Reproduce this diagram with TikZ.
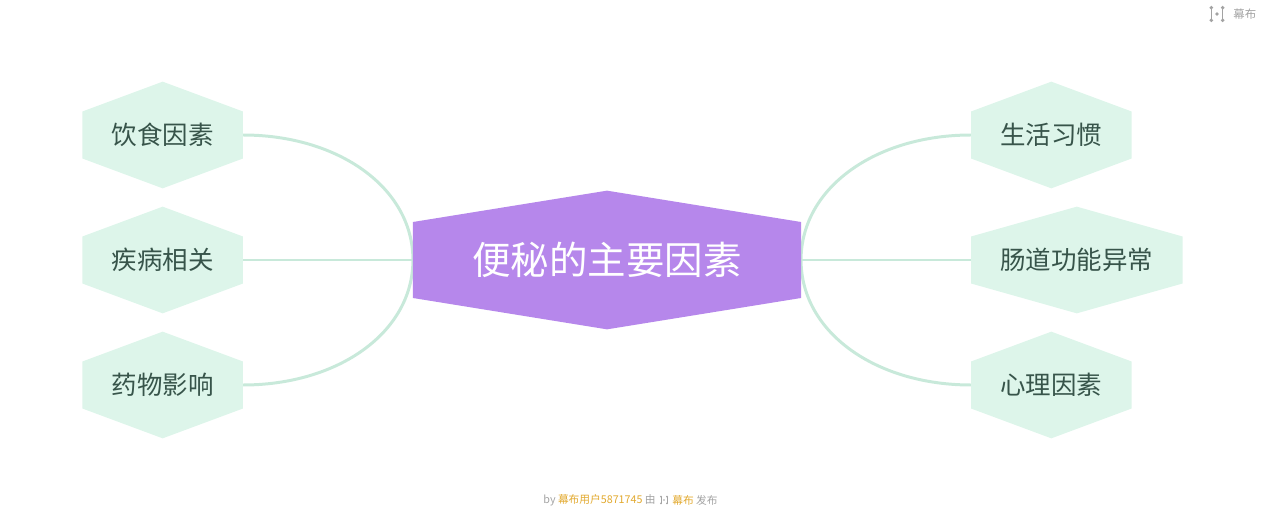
\documentclass[tikz,border=0pt]{standalone}
\usepackage{fontspec}
\newfontfamily\cjk{Noto Sans CJK SC}
\usetikzlibrary{calc,positioning,backgrounds}
\usepackage{xcolor}
\newcommand{\XLeaf}{7.28}
\newcommand{\RowSep}{2.5}
\newcommand{\RootSide}{0.76}
\newcommand{\LeafSide}{0.47}
\definecolor{rootFill}{HTML}{B687EB}
\definecolor{leafFill}{HTML}{DDF5EA}
\definecolor{leafText}{HTML}{37544A}
\definecolor{linkColor}{HTML}{C8E9DA}
\definecolor{creditGray}{HTML}{A3A3A3}
\definecolor{creditGold}{HTML}{E2A92E}
\newcommand{\HexFill}[3]{%
  % #1=node  #2=half height of the vertical sides  #3=fill colour
  \fill[#3] ($(#1.west)+(0,#2)$) -- (#1.north) -- ($(#1.east)+(0,#2)$)
    -- ($(#1.east)+(0,-#2)$) -- (#1.south) -- ($(#1.west)+(0,-#2)$) -- cycle;
}
\newcommand{\LogoMark}[3]{%
  % #1=centre  #2=scale  #3=colour
  \begin{scope}[shift={#1}, scale=#2, #3]
    \draw[line width=0.5pt] (-0.38,-0.42) -- (-0.38,0.42);
    \draw[line width=0.5pt] (0.38,-0.42) -- (0.38,0.42);
    \foreach \sx in {-0.38,0.38}{%
      \foreach \sy in {-0.42,0.42}{%
        \fill (\sx,\sy) circle (0.13);
      }%
    }%
    \fill (0,0) circle (0.12);
  \end{scope}%
}

\begin{document}
\begin{tikzpicture}[
  root/.style   = {font=\cjk\fontsize{21.9}{26}\selectfont, text=white,
                   inner xsep=1.18cm, inner ysep=0pt, minimum height=2.76cm},
  leaf/.style   = {font=\cjk\fontsize{14.5}{17}\selectfont, text=leafText,
                   inner xsep=0.58cm, inner ysep=0pt, minimum height=2.12cm},
  link/.style   = {draw=linkColor, line width=1.7pt},
  credit/.style = {font=\cjk\fontsize{6.1}{7}\selectfont, text=creditGray, inner sep=0pt},
]
\useasboundingbox (-12.14,-5.22) rectangle (13.18,5.2);

% ----------------------------------------------------------------
% Central topic and branches
% ----------------------------------------------------------------
\node[root] (root) at (0,0) {便秘的主要因素};

\node[leaf, anchor=east] (diet)    at (-\XLeaf, \RowSep)  {饮食因素};
\node[leaf, anchor=east] (disease) at (-\XLeaf, 0)        {疾病相关};
\node[leaf, anchor=east] (drug)    at (-\XLeaf, -\RowSep) {药物影响};

\node[leaf, anchor=west] (habit) at (\XLeaf, \RowSep)  {生活习惯};
\node[leaf, anchor=west] (bowel) at (\XLeaf, 0)        {肠道功能异常};
\node[leaf, anchor=west] (mind)  at (\XLeaf, -\RowSep) {心理因素};

% ----------------------------------------------------------------
% Connections and hexagon fills
% ----------------------------------------------------------------
\begin{pgfonlayer}{background}
  \draw[link] (root.west) .. controls +(0,1.45) and +(1.9,0) .. (diet.east);
  \draw[link] (root.west) -- (disease.east);
  \draw[link] (root.west) .. controls +(0,-1.45) and +(1.9,0) .. (drug.east);

  \draw[link] (root.east) .. controls +(0,1.45) and +(-1.9,0) .. (habit.west);
  \draw[link] (root.east) -- (bowel.west);
  \draw[link] (root.east) .. controls +(0,-1.45) and +(-1.9,0) .. (mind.west);

  \HexFill{root}{\RootSide}{rootFill}
  \foreach \n in {diet,disease,drug,habit,bowel,mind}{%
    \HexFill{\n}{\LeafSide}{leafFill}
  }
\end{pgfonlayer}

% ----------------------------------------------------------------
% Brand marks
% ----------------------------------------------------------------
\LogoMark{(12.2,4.92)}{0.3}{creditGray}
\node[credit, anchor=west, font=\cjk\fontsize{6.5}{8}\selectfont]
  (brand) at (12.52,4.92) {幕布};

\node[credit, anchor=east] (byline) at (0.98,-4.8)
  {by \textcolor{creditGold}{幕布用户5871745} 由};
\LogoMark{(1.14,-4.8)}{0.16}{creditGray}
\node[credit, anchor=west] (mubu) at (1.3,-4.8)
  {\textcolor{creditGold}{幕布} 发布};

\end{tikzpicture}
\end{document}
